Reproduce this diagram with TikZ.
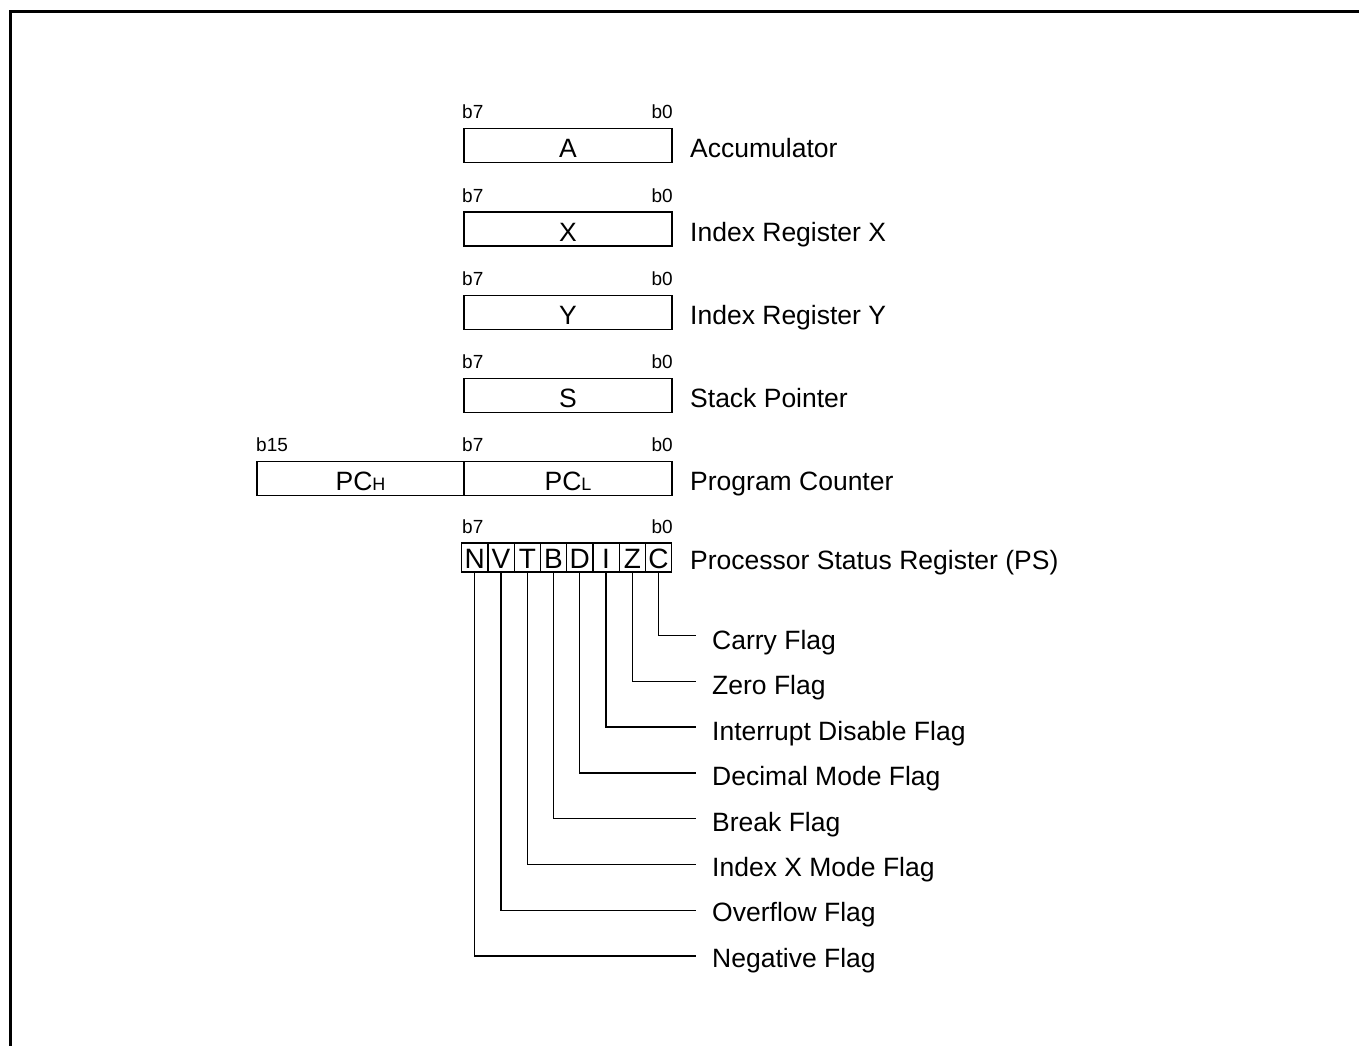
\documentclass[tikz,border=0pt]{standalone}
\usepackage{fontspec}
\setmainfont{Liberation Sans}
\begin{document}
\begin{tikzpicture}[x=1pt,y=-1pt,
  big/.style={font=\fontsize{26.5}{30}\selectfont},
  small/.style={font=\fontsize{19}{22}\selectfont},
  reg/.style={draw, line width=1.3pt, minimum height=34pt, inner sep=0pt,
    text height=24pt, text depth=0pt, big},
  flagcell/.style={draw, line width=1.3pt, minimum width=26.25pt, minimum height=29pt,
    inner sep=0pt, text height=22.5pt, text depth=0pt, font=\fontsize{28}{30}\selectfont},
  lbl/.style={anchor=base west, inner sep=0pt, big},
  bitl/.style={anchor=base west, inner sep=0pt, small},
  bitr/.style={anchor=base east, inner sep=0pt, small},
  conn/.style={line width=1.3pt},
  frame/.style={line width=2.7pt}]
\useasboundingbox (0,0) rectangle (1359,1046);
\clip (0,0) rectangle (1359,1046);
\draw[frame] (10.4,11.3) rectangle (1420,1120);

% registers
\foreach \n/\t/\yc/\lab in {A/A/145.8/Accumulator, X/X/229/Index Register X,
    Y/Y/312.2/Index Register Y, S/S/395.4/Stack Pointer}{
  \node[reg, minimum width=208pt] (\n) at (568,\yc) {\t};
  \node[lbl] (\n lab) at (690,\yc+12) {\lab};
  \node[bitl] (\n b7) at (462,\yc-17-10) {b7};
  \node[bitr] (\n b0) at (673,\yc-17-10) {b0};
}

% program counter
\node[reg, minimum width=207pt] (PCH) at (360.5,478.6) {PC{\fontsize{18}{20}\selectfont H}};
\node[reg, minimum width=208pt] (PCL) at (568,478.6) {PC{\fontsize{18}{20}\selectfont L}};
\node[lbl] (PClab) at (690,490.6) {Program Counter};
\node[bitl] (PCb15) at (256,451.6) {b15};
\node[bitl] (PCb7) at (462,451.6) {b7};
\node[bitr] (PCb0) at (673,451.6) {b0};

% processor status
\node[bitl] (PSb7) at (462,533) {b7};
\node[bitr] (PSb0) at (673,533) {b0};
\node[lbl] (PSlab) at (690,569) {Processor Status Register (PS)};
\foreach \L/\i/\k/\txt in {N/0/7/Negative Flag, V/1/6/Overflow Flag,
    T/2/5/Index X Mode Flag, B/3/4/Break Flag, D/4/3/Decimal Mode Flag,
    I/5/2/Interrupt Disable Flag, Z/6/1/Zero Flag, C/7/0/Carry Flag}{
  \node[flagcell] (c\L) at ({461.7+26.25*(\i+0.5)},557.5) {\L};
  \node[lbl] (t\L) at (712,{649.5+45.4*\k}) {\txt};
  \coordinate (e\L) at (696,{635.5+45.8*\k});
  \draw[conn] (c\L.south) |- (e\L);
}
\end{tikzpicture}
\end{document}
